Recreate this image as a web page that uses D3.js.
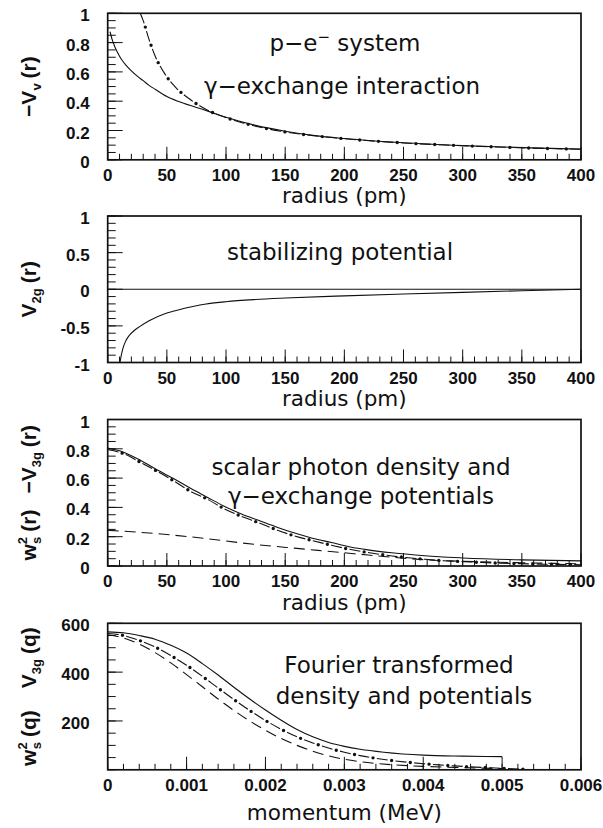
<!DOCTYPE html>
<html><head><meta charset="utf-8">
<script src="https://cdn.jsdelivr.net/npm/d3@7"></script>
<style>body{margin:0;background:#fff}</style>
</head><body>
<script>
// ---------- DATA ----------
// Panel 1: -V_v(r)
const p1Solid = [[2,0.874],[4,0.815],[6,0.772],[8,0.737],[10,0.707],[12,0.681],[15,0.65],[20,0.607],[25,0.571],[30,0.54],[35,0.508],[40,0.482],[50,0.432],[60,0.398],[70,0.37],[80,0.345],[90,0.317],[100,0.29],[125,0.235],[150,0.195],[175,0.165],[200,0.145],[250,0.116],[300,0.097],[350,0.083],[400,0.073]];
const p1DashDot = [[27.5,1.0],[30,0.95],[35,0.82],[40,0.71],[48,0.59],[58,0.49],[70,0.41],[84,0.34],[100,0.288],[115,0.25],[130,0.22],[150,0.19],[175,0.164],[200,0.144],[250,0.115],[300,0.096],[350,0.082],[400,0.072]];
// Panel 2: V_2g(r)
const p2Solid = [[10.4,-1],[11.5,-0.9],[13,-0.8],[15,-0.715],[18,-0.635],[22,-0.57],[27,-0.51],[35,-0.43],[50,-0.325],[65,-0.26],[78,-0.215],[100,-0.17],[125,-0.14],[150,-0.12],[200,-0.09],[250,-0.065],[300,-0.042],[350,-0.02],[400,0]];
// Panel 3
const p3Solid = [[0,0.805],[14,0.775],[28,0.72],[42,0.655],[56,0.595],[70,0.53],[84,0.47],[98,0.41],[113,0.355],[128,0.31],[143,0.265],[158,0.225],[173,0.19],[189,0.16],[205,0.13],[220,0.11],[240,0.09],[260,0.075],[280,0.063],[300,0.055],[350,0.042],[400,0.035]];
const p3DashDot = [[0,0.795],[14,0.765],[28,0.706],[43,0.641],[56,0.58],[70,0.51],[84,0.457],[98,0.393],[113,0.339],[128,0.294],[143,0.246],[158,0.205],[173,0.173],[189,0.142],[204,0.115],[220,0.092],[236,0.073],[252,0.058],[268,0.046],[284,0.036],[300,0.03],[316,0.024],[332,0.019],[348,0.016],[364,0.013],[380,0.011],[400,0.009]];
const p3Dashed = [[0,0.244],[35,0.225],[70,0.199],[126,0.146],[160,0.12],[195,0.094],[220,0.075],[240,0.06],[260,0.047],[280,0.038],[300,0.032],[350,0.022],[400,0.015]];
// Panel 4
const p4Solid = [[0,565],[0.0002,561],[0.0004,550],[0.0006,535],[0.0008,510],[0.001,478],[0.0012,435],[0.0014,388],[0.0016,338],[0.0018,290],[0.002,245],[0.0022,203],[0.0024,165],[0.0026,135],[0.0028,112],[0.003,96],[0.0032,84],[0.0035,72],[0.004,60],[0.0045,56],[0.005,54]];
const p4DashDot = [[0,558],[0.0002,550],[0.0004,530],[0.0006,503],[0.0008,468],[0.001,428],[0.0012,383],[0.0014,335],[0.0016,288],[0.0018,243],[0.002,202],[0.0022,166],[0.0024,135],[0.0026,110],[0.0028,89],[0.003,72],[0.0032,58],[0.0034,47],[0.0036,38],[0.0038,31],[0.004,25],[0.0042,20],[0.0044,16],[0.0046,12],[0.0048,9],[0.005,6],[0.0053,2]];
const p4Dashed = [[0,553],[0.0002,540],[0.0004,515],[0.0006,480],[0.0008,438],[0.001,390],[0.0012,340],[0.0014,290],[0.0016,243],[0.0018,200],[0.002,162],[0.0022,128],[0.0024,100],[0.0026,76],[0.0028,57],[0.003,43],[0.0032,33],[0.0034,26],[0.0036,21],[0.004,14],[0.0045,9],[0.005,5]];

// tick labels
const radiusTicks = [0,50,100,150,200,250,300,350,400];
const momentumTicks = [0,0.001,0.002,0.003,0.004,0.005,0.006];
const momentumLabels = ["0","0.001","0.002","0.003","0.004","0.005","0.006"];
const p1YTicks = [0,0.2,0.4,0.6,0.8,1];
const p1YLabels = ["0","0.2","0.4","0.6","0.8","1"];
const p2YTicks = [-1,-0.5,0,0.5,1];
const p2YLabels = ["-1","-0.5","0","0.5","1"];
const p4YTicks = [200,400,600];
const p4YLabels = ["200","400","600"];

// ---------- LAYOUT ----------
const W = 603, H = 828;
const L = 107.7, R = 581, PH = 146.5;
const tops = [13.3, 216, 419.5, 623.3];
const TICKFONT = "'Liberation Sans', Arial, Helvetica, sans-serif";
const TEXTFONT = "'DejaVu Sans', 'Noto Sans', sans-serif";

const svg = d3.select("body").append("svg").attr("width", W).attr("height", H)
  .style("display","block");

function panel(idx, cfg) {
  const top = tops[idx], bot = top + PH;
  const g = svg.append("g");
  const x = d3.scaleLinear().domain(cfg.xDomain).range([L, R]);
  const y = d3.scaleLinear().domain(cfg.yDomain).range([bot, top]);
  const cid = "clip" + idx;
  g.append("clipPath").attr("id", cid).append("rect")
    .attr("x", L).attr("y", top).attr("width", R - L).attr("height", PH);

  // minor ticks x
  const xm = d3.range(cfg.xDomain[0], cfg.xDomain[1] + cfg.xMinor/2, cfg.xMinor);
  g.selectAll(null).data(xm).enter().append("line")
    .attr("x1", d => x(d)).attr("x2", d => x(d)).attr("y1", bot).attr("y2", bot - 6)
    .attr("stroke", "#111").attr("stroke-width", 1);
  g.selectAll(null).data(cfg.xTicks).enter().append("line")
    .attr("x1", d => x(d)).attr("x2", d => x(d)).attr("y1", bot).attr("y2", bot - 13)
    .attr("stroke", "#111").attr("stroke-width", 1);
  // minor ticks y
  const ym = d3.range(cfg.yDomain[0], cfg.yDomain[1] + cfg.yMinor/2, cfg.yMinor);
  g.selectAll(null).data(ym).enter().append("line")
    .attr("x1", L).attr("x2", L + 8).attr("y1", d => y(d)).attr("y2", d => y(d))
    .attr("stroke", "#111").attr("stroke-width", 1);
  g.selectAll(null).data(cfg.yTicks).enter().append("line")
    .attr("x1", L).attr("x2", L + 15).attr("y1", d => y(d)).attr("y2", d => y(d))
    .attr("stroke", "#111").attr("stroke-width", 1);

  // tick labels
  g.selectAll(null).data(cfg.xTicks).enter().append("text")
    .attr("x", d => x(d)).attr("y", bot + 21)
    .attr("text-anchor", "middle").attr("font-family", TICKFONT)
    .attr("font-weight", "bold").attr("font-size", 17).attr("fill", "#111")
    .text((d, i) => cfg.xLabels[i]);
  g.selectAll(null).data(cfg.yTicks).enter().append("text")
    .attr("x", L - 18).attr("y", d => y(d) + 8)
    .attr("text-anchor", "end").attr("font-family", TICKFONT)
    .attr("font-weight", "bold").attr("font-size", 17).attr("fill", "#111")
    .text((d, i) => cfg.yLabels[i]);

  // x title
  g.append("text").attr("x", (L + R) / 2).attr("y", bot + cfg.xTitleOff)
    .attr("text-anchor", "middle").attr("font-family", TEXTFONT)
    .attr("font-size", 21.5).attr("fill", "#111").text(cfg.xTitle);

  // y title
  const yt = g.append("text")
    .attr("transform", `translate(36,${top + PH / 2}) rotate(-90)`)
    .attr("text-anchor", "middle").attr("font-family", TICKFONT)
    .attr("font-weight", "bold").attr("font-size", 21).attr("fill", "#111");
  cfg.yTitle(yt);

  // curves
  const line = d3.line().x(d => x(d[0])).y(d => y(d[1])).curve(d3.curveMonotoneX);
  const cg = g.append("g").attr("clip-path", `url(#${cid})`);
  (cfg.solid || []).forEach(s => cg.append("path").attr("d", line(s))
    .attr("fill", "none").attr("stroke", "#111").attr("stroke-width", 1.1));
  (cfg.dashed || []).forEach(s => cg.append("path").attr("d", line(s))
    .attr("fill", "none").attr("stroke", "#111").attr("stroke-width", 1.1)
    .attr("stroke-dasharray", "11,6"));
  (cfg.dashDot || []).forEach(s => {
    cg.append("path").attr("d", line(s)).attr("fill", "none").attr("stroke", "#111")
      .attr("stroke-width", 1.1).attr("stroke-dasharray", "11,7.8");
    cg.append("path").attr("d", line(s)).attr("fill", "none").attr("stroke", "#111")
      .attr("stroke-width", 3.4).attr("stroke-linecap", "round")
      .attr("stroke-dasharray", "0,18.8").attr("stroke-dashoffset", 3.9);
  });
  if (cfg.zeroLine) {
    cg.append("line").attr("x1", L).attr("x2", R).attr("y1", y(0)).attr("y2", y(0))
      .attr("stroke", "#111").attr("stroke-width", 1.1);
  }

  // annotations
  cfg.notes.forEach(n => {
    const t = g.append("text").attr("x", n.x).attr("y", n.y).attr("dy", "0.35em")
      .attr("text-anchor", "middle").attr("font-family", TEXTFONT)
      .attr("font-size", 23).attr("fill", "#111");
    n.build(t);
  });

  // frame
  g.append("rect").attr("x", L).attr("y", top).attr("width", R - L).attr("height", PH)
    .attr("fill", "none").attr("stroke", "#111").attr("stroke-width", 1.7);
}

const plain = s => t => t.text(s);

panel(0, {
  xDomain: [0, 400], yDomain: [0, 1], xMinor: 10, yMinor: 0.05,
  xTicks: radiusTicks, xLabels: radiusTicks.map(String),
  yTicks: p1YTicks, yLabels: p1YLabels, xTitle: "radius (pm)", xTitleOff: 43.5,
  yTitle: t => {
    t.append("tspan").text("\u2212V");
    t.append("tspan").attr("font-size", 13).attr("dy", 5).text("v");
    t.append("tspan").attr("dy", -5).attr("dx", 5).text("(r)");
  },
  solid: [p1Solid], dashDot: [p1DashDot],
  notes: [
    { x: 345, y: 43, build: t => { t.append("tspan").text("p\u2212e");
        t.append("tspan").attr("font-size", 15).attr("dy", -9).text("\u2212");
        t.append("tspan").attr("dy", 9).text(" system"); } },
    { x: 342, y: 86, build: plain("\u03b3\u2212exchange interaction") }
  ]
});

panel(1, {
  xDomain: [0, 400], yDomain: [-1, 1], xMinor: 10, yMinor: 0.1,
  xTicks: radiusTicks, xLabels: radiusTicks.map(String),
  yTicks: p2YTicks, yLabels: p2YLabels, xTitle: "radius (pm)", xTitleOff: 43.5,
  yTitle: t => {
    t.append("tspan").text("V");
    t.append("tspan").attr("font-size", 13).attr("dy", 5).text("2g");
    t.append("tspan").attr("dy", -5).attr("dx", 5).text("(r)");
  },
  solid: [p2Solid], zeroLine: true,
  notes: [ { x: 340, y: 252, build: plain("stabilizing potential") } ]
});

panel(2, {
  xDomain: [0, 400], yDomain: [0, 1], xMinor: 10, yMinor: 0.05,
  xTicks: radiusTicks, xLabels: radiusTicks.map(String),
  yTicks: p1YTicks, yLabels: p1YLabels, xTitle: "radius (pm)", xTitleOff: 43.5,
  yTitle: t => {
    t.append("tspan").text("w");
    t.append("tspan").attr("font-size", 13).attr("dy", -9).text("2");
    t.append("tspan").attr("font-size", 13).attr("dx", -7).attr("dy", 14).text("s");
    t.append("tspan").attr("dy", -5).attr("dx", 5).text("(r)");
    t.append("tspan").attr("dx", 16).text("\u2212V");
    t.append("tspan").attr("font-size", 13).attr("dy", 5).text("3g");
    t.append("tspan").attr("dy", -5).attr("dx", 5).text("(r)");
  },
  solid: [p3Solid], dashDot: [p3DashDot], dashed: [p3Dashed],
  notes: [
    { x: 361, y: 467, build: plain("scalar photon density and") },
    { x: 361, y: 496, build: plain("\u03b3\u2212exchange potentials") }
  ]
});

panel(3, {
  xDomain: [0, 0.006], yDomain: [0, 600], xMinor: 0.0002, yMinor: 50,
  xTicks: momentumTicks, xLabels: momentumLabels,
  yTicks: p4YTicks, yLabels: p4YLabels, xTitle: "momentum (MeV)", xTitleOff: 50,
  yTitle: t => {
    t.append("tspan").text("w");
    t.append("tspan").attr("font-size", 13).attr("dy", -9).text("2");
    t.append("tspan").attr("font-size", 13).attr("dx", -7).attr("dy", 14).text("s");
    t.append("tspan").attr("dy", -5).attr("dx", 5).text("(q)");
    t.append("tspan").attr("dx", 22).text("V");
    t.append("tspan").attr("font-size", 13).attr("dy", 5).text("3g");
    t.append("tspan").attr("dy", -5).attr("dx", 5).text("(q)");
  },
  solid: [p4Solid], dashDot: [p4DashDot], dashed: [p4Dashed],
  notes: [
    { x: 399, y: 665, build: plain("Fourier transformed") },
    { x: 404, y: 696, build: plain("density and potentials") }
  ]
});
</script>
</body></html>
